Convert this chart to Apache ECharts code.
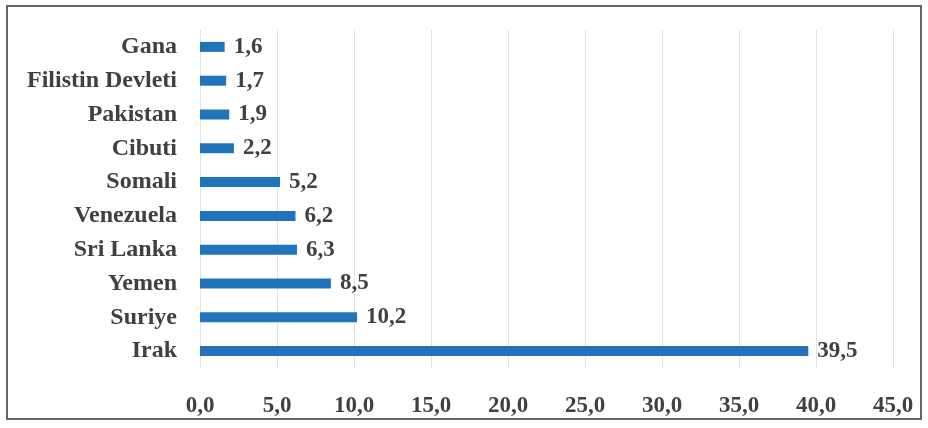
<!DOCTYPE html>
<html><head><meta charset="utf-8">
<script src="https://cdn.jsdelivr.net/npm/echarts@6/dist/echarts.min.js"></script>
<style>html,body{margin:0;padding:0;background:#fff}#c{width:928px;height:428px}
#frame{position:absolute;left:6px;top:5px;width:916px;height:415px;border:2px solid #666;box-sizing:border-box;pointer-events:none}</style>
</head><body><div id="c"></div><div id="frame"></div>
<script>
const categories = ["Irak","Suriye","Yemen","Sri Lanka","Venezuela","Somali","Cibuti","Pakistan","Filistin Devleti","Gana"];
const values = [39.5,10.2,8.5,6.3,6.2,5.2,2.2,1.9,1.7,1.6];
const xTicks = [0,5,10,15,20,25,30,35,40,45];
const fmt = v => v.toFixed(1).replace('.', ',');
const chart = echarts.init(document.getElementById('c'));
chart.setOption({
  animation:false,
  grid:{left:200,right:35,top:30,bottom:60},
  xAxis:{type:'value',min:xTicks[0],max:xTicks[xTicks.length-1],interval:5,
    axisLine:{show:false},axisTick:{show:false},
    splitLine:{show:true,lineStyle:{color:'#e2e2e2',width:1}},
    axisLabel:{formatter:v=>fmt(v),fontFamily:'Liberation Serif',fontWeight:'bold',fontSize:23,color:'#404040',margin:27}},
  yAxis:{type:'category',data:categories,
    axisLine:{show:false},axisTick:{show:false},
    axisLabel:{fontFamily:'Liberation Serif',fontWeight:'bold',fontSize:24,color:'#404040',margin:23}},
  series:[{type:'bar',data:values,barWidth:10,
    itemStyle:{color:'#1f74bb'},
    label:{show:true,position:'right',distance:9,formatter:p=>fmt(p.value),
      fontFamily:'Liberation Serif',fontWeight:'bold',fontSize:23,color:'#404040'}}]
});
</script></body></html>
